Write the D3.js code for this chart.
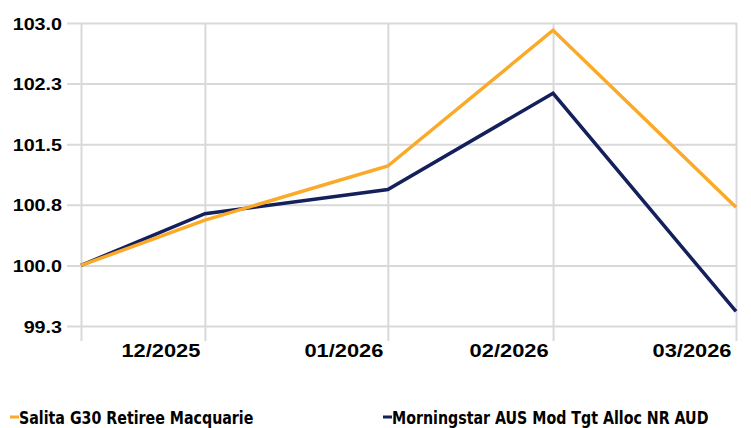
<!DOCTYPE html>
<html>
<head>
<meta charset="utf-8">
<script src="https://cdn.jsdelivr.net/npm/d3@7"></script>
<style>
  body { margin:0; background:#fff; }
  svg { display:block; }
  .grid line { stroke:#d9d9d9; stroke-width:2; }
  .axis text { font-family:"Liberation Sans", Arial, sans-serif; font-weight:bold; fill:#000; }
  .legend text { font-family:"Liberation Sans Narrow", "DejaVu Sans Condensed", sans-serif; font-weight:bold; font-size:17px; fill:#000; }
</style>
</head>
<body>
<div id="chart"></div>
<script>
var svgW = 751,
    svgH = 428;

// data
var dates = ['2025-12-10', '2025-12-31', '2026-01-31', '2026-02-28', '2026-03-31'];
var tickLabels = ['', '12/2025', '01/2026', '02/2026', '03/2026'];
var seriesNames = ['Salita G30 Retiree Macquarie', 'Morningstar AUS Mod Tgt Alloc NR AUD'];
var salita = [100.0, 100.56, 101.23, 102.91, 100.72];
var morningstar = [100.0, 100.64, 100.94, 102.13, 99.43];
var yTicks = [99.25, 100, 100.75, 101.5, 102.25, 103];
var colors = ['#fba928', '#13205c'];

var parse = d3.timeParse('%Y-%m-%d');
var xDates = dates.map(parse);

var pL = 81, pR = 736, pT = 23, pB = 326;

var x = d3.scaleTime()
  .domain(d3.extent(xDates))
  .range([pL, pR]);

var y = d3.scaleLinear()
  .domain([99.25, 103])
  .range([pB, pT]);

var svg = d3.select('#chart')
  .append('svg')
    .attr('width', svgW)
    .attr('height', svgH);

// stretch text horizontally about its anchor x
function stretch(sel, k) {
  sel.each(function() {
    var t = d3.select(this), tx = +t.attr('x') || 0;
    t.attr('transform', 'translate(' + tx + ',0) scale(' + k + ',1) translate(' + (-tx) + ',0)');
  });
}

// horizontal grid + y labels
var yAxis = svg.append('g')
  .attr('class', 'grid axis')
  .attr('transform', 'translate(' + (pR + 1) + ',0)')
  .call(d3.axisLeft(y)
    .tickValues(yTicks)
    .tickFormat(d3.format('.1f'))
    .tickSize(pR + 1 - 67)
    .tickPadding(5));
yAxis.select('.domain').remove();
yAxis.selectAll('text').attr('font-size', 17).attr('dy', '0.36em');
stretch(yAxis.selectAll('text'), 1.16);

// vertical grid + x labels
var xAxis = svg.append('g')
  .attr('class', 'grid axis')
  .attr('transform', 'translate(0,341)')
  .call(d3.axisBottom(x)
    .tickValues(xDates)
    .tickFormat(function(d, i) { return tickLabels[i]; })
    .tickSize(pT - 341)
    .tickPadding(2));
xAxis.select('.domain').remove();
xAxis.selectAll('text')
  .attr('font-size', 19)
  .attr('text-anchor', 'end')
  .attr('x', -5);
stretch(xAxis.selectAll('text'), 1.15);

// lines
var line = d3.line()
  .x(function(d, i) { return x(xDates[i]); })
  .y(function(d) { return y(d); });

var paths = [salita, morningstar].map(function(s, i) {
  return svg.append('path')
    .datum(s)
    .attr('fill', 'none')
    .attr('stroke', colors[i])
    .attr('stroke-width', 3.5)
    .attr('d', line);
});
// orange on top
paths[0].raise();

// legend
var legX = [10, 383];
var legend = svg.append('g').attr('class', 'legend');
seriesNames.forEach(function(n, i) {
  legend.append('line')
    .attr('x1', legX[i]).attr('x2', legX[i] + 9)
    .attr('y1', 417).attr('y2', 417)
    .attr('stroke', colors[i])
    .attr('stroke-width', 3);
  legend.append('text')
    .attr('x', legX[i] + 9)
    .attr('y', 424)
    .text(n);
});
stretch(legend.selectAll('text'), 0.93);
</script>
</body>
</html>
